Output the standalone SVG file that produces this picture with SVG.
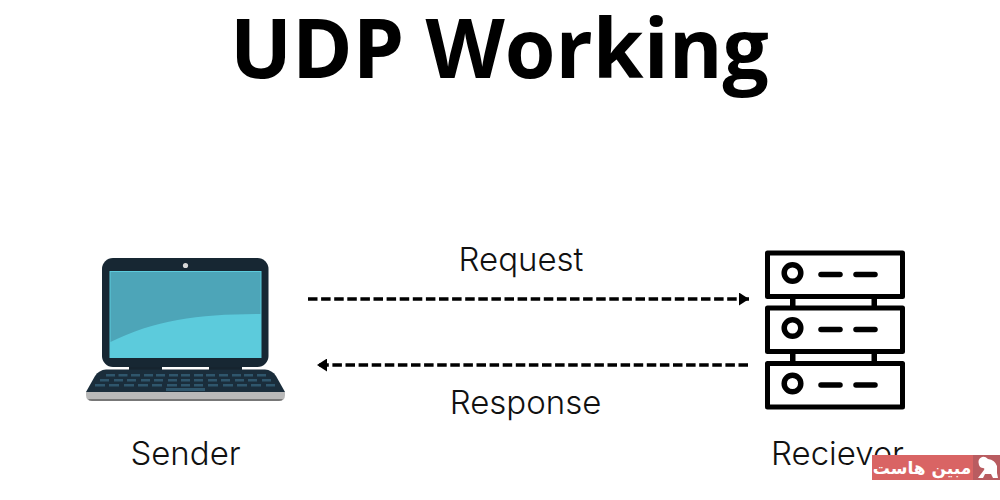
<svg xmlns="http://www.w3.org/2000/svg" width="1000" height="500" viewBox="0 0 1000 500">
<style>
text{font-family:"Inter","Noto Sans","Liberation Sans",sans-serif;fill:#111}
.title{font-family:"Open Sans","Noto Sans",sans-serif;font-weight:700;font-size:82px;fill:#000}
.lbl{font-size:33px;font-weight:300}
.srv{fill:#fff;stroke:#000;stroke-width:5;stroke-linejoin:round}
.led{fill:#fff;stroke:#000;stroke-width:5.500}
.bar{stroke:#000;stroke-width:5.500;stroke-linecap:round}
.conn{stroke:#000;stroke-width:3.500;stroke-dasharray:9.500 3.600;fill:none}
.key{fill:#2f566c}
</style>
<defs>
<marker id="arrow" viewBox="0 0 10 10" refX="10" refY="5" markerUnits="userSpaceOnUse" markerWidth="10" markerHeight="13" orient="auto-start-reverse" preserveAspectRatio="none"><path d="M0 0L10 5L0 10Z" fill="#000"/></marker>
<g id="srvUnit">
<rect class="srv" x="767.500" y="253" width="135" height="43.500"/>
<circle class="led" cx="792.500" cy="273" r="8.300"/>
<line class="bar" x1="821" y1="274.500" x2="840" y2="274.500"/>
<line class="bar" x1="856" y1="274.500" x2="875" y2="274.500"/>
</g>
</defs>
<rect width="1000" height="500" fill="#fff"/>
<text class="title" x="499.500" y="78" text-anchor="middle">UDP Working</text>
<g id="connectors">
<line class="conn" x1="308" y1="299" x2="749" y2="299" marker-end="url(#arrow)"/>
<line class="conn" x1="748" y1="365" x2="317" y2="365" marker-end="url(#arrow)"/>
</g>
<text class="lbl" x="521" y="271" text-anchor="middle">Request</text>
<text class="lbl" x="525.500" y="414" text-anchor="middle">Response</text>
<g id="sender">
<path d="M129 366h33v5h-33zM209 366h33v5h-33z" fill="#16242f"/>
<path d="M106 369.500H265Q272 370 276 376L285 392H86L95 376Q99 370 106 369.500Z" fill="#1a2d3b"/>
<path d="M106 374h9v2.500h-9zM118.500 374h9v2.500h-9zM131 374h9v2.500h-9zM144 374h9v2.500h-9zM156 374h9v2.500h-9zM169 374h9v2.500h-9zM181 374h9v2.500h-9zM194 374h9v2.500h-9zM206 374h9v2.500h-9zM219 374h9v2.500h-9zM232 374h9v2.500h-9zM244 374h9v2.500h-9zM257 374h9v2.500h-9z" class="key"/>
<path d="M100 379h9v2.500h-9zM114 379h9v2.500h-9zM127 379h9v2.500h-9zM141 379h9v2.500h-9zM154 379h9v2.500h-9zM168 379h9v2.500h-9zM181 379h9v2.500h-9zM194 379h9v2.500h-9zM208 379h9v2.500h-9zM221 379h9v2.500h-9zM235 379h9v2.500h-9zM248 379h9v2.500h-9zM262 379h9v2.500h-9z" class="key"/>
<path d="M95 384h10v2.500h-10zM109 384h10v2.500h-10zM124 384h10v2.500h-10zM138 384h10v2.500h-10zM152 384h10v2.500h-10zM167 384h10v2.500h-10zM181 384h9v2.500h-9zM194 384h9v2.500h-9zM208 384h10v2.500h-10zM223 384h10v2.500h-10zM237 384h10v2.500h-10zM251 384h10v2.500h-10zM266 384h9v2.500h-9z" class="key"/>
<rect class="key" x="166" y="388" width="39" height="3"/>
<path d="M86 392H285V395Q285 401 279 401H92Q86 401 86 395Z" fill="#b9b9b9"/>
<path d="M88 399H283Q282 401 279 401H92Q89 401 88 399Z" fill="#777"/>
<rect x="102" y="258" width="166.500" height="109" rx="11" fill="#172733"/>
<rect x="109.500" y="271" width="152" height="87" fill="#5ccbdc"/>
<path d="M110.500 272H260.500V314C200 314 155 320 110.500 342Z" fill="#4da5b8"/>
<circle cx="185.500" cy="265.500" r="2.600" fill="#d8d8d8"/>
</g>
<g id="receiver">
<rect x="790" y="296" width="5.500" height="12" fill="#000"/><rect x="871.500" y="296" width="5.500" height="12" fill="#000"/>
<rect x="790" y="351" width="5.500" height="12" fill="#000"/><rect x="871.500" y="351" width="5.500" height="12" fill="#000"/>
<use href="#srvUnit"/>
<use href="#srvUnit" y="55"/>
<use href="#srvUnit" y="110.500"/>
</g>
<text class="lbl" x="185.500" y="465" text-anchor="middle">Sender</text>
<text class="lbl" x="837.500" y="465" text-anchor="middle">Reciever</text>
<g id="watermark">
<rect x="872" y="455" width="101" height="25" fill="#d96464"/>
<rect x="973" y="455" width="27" height="25" fill="#b95c60"/>
<text x="922" y="473.500" text-anchor="middle" style="font-family:'DejaVu Sans',sans-serif;font-weight:700;font-size:17px;fill:#fff" direction="rtl">مبین هاست</text>
<path d="M979 465Q977 459 982 457Q985 456 988 459Q995 460 997 466V473L998 478H993L991 474H985L983 478H978Q981 474 984 470Q985 468 983 468Q980 468 979 465Z" fill="#fff"/>
</g>
</svg>
